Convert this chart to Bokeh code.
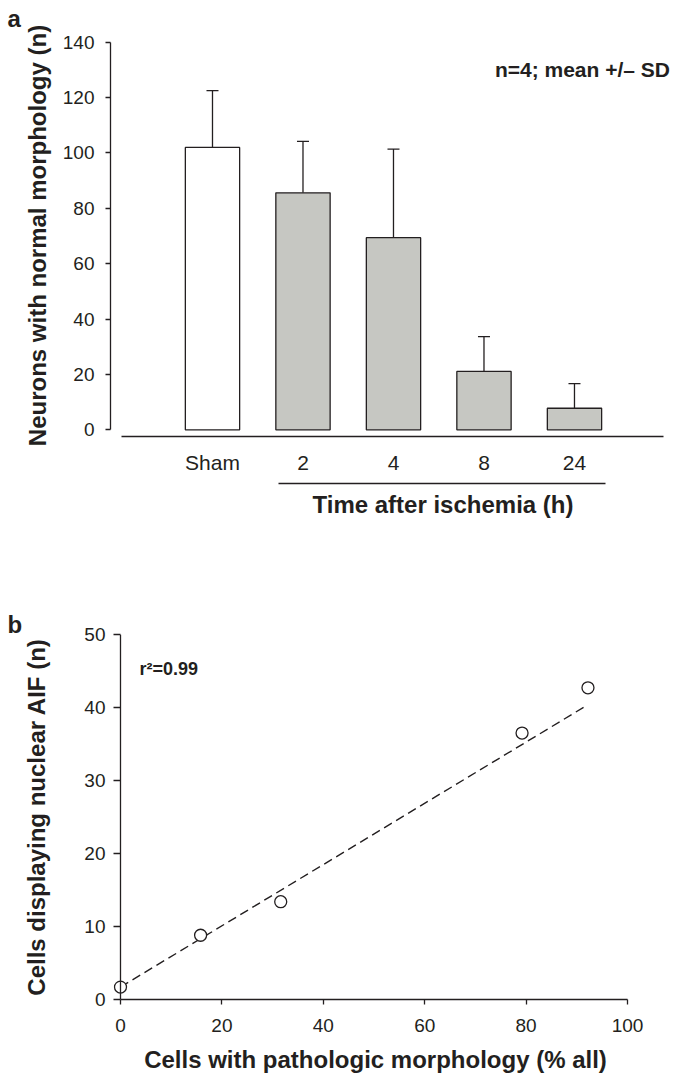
from bokeh.plotting import figure
from bokeh.models import (ColumnDataSource, FixedTicker, LinearAxis, Range1d,
                          Whisker, TeeHead, Label, Title, Span)
from bokeh.embed import file_html
from bokeh.resources import INLINE

# ---------------- data: panel a ----------------
groups = ["Sham", "2", "4", "8", "24"]
neuron_mean = [102.0, 85.6, 69.4, 21.1, 7.8]
neuron_sd = [20.5, 18.6, 32.0, 12.6, 8.9]
a_yticks = [0, 20, 40, 60, 80, 100, 120, 140]

# ---------------- data: panel b ----------------
pathologic_pct = [0.0, 15.8, 31.6, 79.2, 92.2]
nuclear_aif = [1.7, 8.8, 13.4, 36.5, 42.7]
fit_x = [0.0, 92.0]
fit_y = [1.7, 40.3]
b_xticks = [0, 20, 40, 60, 80, 100]
b_yticks = [0, 10, 20, 30, 40, 50]

FONT = "Liberation Sans"
INK = "#231f20"
GRAY = "#c6c7c2"


def style_axis(ax, tick_size, label_size=None):
    ax.axis_line_color = INK
    ax.axis_line_width = 1.3
    ax.major_tick_line_color = INK
    ax.major_tick_line_width = 1.3
    ax.minor_tick_line_color = None
    ax.major_label_text_font = FONT
    ax.major_label_text_font_size = tick_size
    ax.major_label_text_color = INK
    if label_size:
        ax.axis_label_text_font = FONT
        ax.axis_label_text_font_style = "bold"
        ax.axis_label_text_font_size = label_size
        ax.axis_label_text_color = INK


def bare(p):
    p.outline_line_color = None
    p.xgrid.visible = False
    p.ygrid.visible = False
    p.background_fill_color = "white"
    p.border_fill_color = "white"


def bold_title(text, size, align, offset, standoff):
    return Title(text=text, align=align, offset=offset, standoff=standoff,
                 text_font=FONT, text_font_style="bold", text_font_size=size,
                 text_color=INK)


# ================= panel a =================
positions = list(range(1, len(groups) + 1))
fills = ["white"] + [GRAY] * (len(groups) - 1)
src_a = ColumnDataSource(dict(
    x=positions,
    top=neuron_mean,
    upper=[m + s for m, s in zip(neuron_mean, neuron_sd)],
    fill=fills,
))

pa = figure(width=673, height=559,
            x_range=Range1d(-0.127, 6.061), y_range=Range1d(-2.41, 142.8),
            x_axis_location=None, y_axis_location=None,
            min_border_left=110, min_border_right=3,
            min_border_top=33, min_border_bottom=123,
            output_backend="svg", toolbar_location=None)
bare(pa)

ya = LinearAxis(ticker=FixedTicker(ticks=a_yticks), bounds=(0, 140),
                axis_label="Neurons with normal morphology (n)")
style_axis(ya, "19px", "24px")
ya.major_tick_out = 5
ya.major_tick_in = 0
ya.major_label_standoff = 11
ya.axis_label_standoff = 9
pa.add_layout(ya, "left")

xa = LinearAxis(ticker=FixedTicker(ticks=positions), bounds=(0, 5.983),
                major_label_overrides={i: g for i, g in zip(positions, groups)})
style_axis(xa, "21px")
xa.major_tick_out = 0
xa.major_tick_in = 0
xa.major_label_standoff = 14
# thin spacer so the grouping line sits below the tick labels
xa.axis_label = " "
xa.axis_label_text_font_size = "2px"
xa.axis_label_standoff = 2
pa.add_layout(xa, "below")

# grouping line under the ischemia time points
ul = LinearAxis(ticker=FixedTicker(ticks=[]), bounds=(1.733, 5.343))
style_axis(ul, "1px")
ul.major_tick_out = 0
ul.major_tick_in = 0
ul.major_label_standoff = 0
ul.major_tick_line_color = None
ul.major_label_text_color = None
pa.add_layout(ul, "below")

pa.add_layout(bold_title("Time after ischemia (h)", "24px", "left", 202, 10), "below")
pa.add_layout(bold_title("a", "24px", "left", -103, 5), "above")

pa.vbar(x="x", top="top", bottom=0, width=0.6, fill_color="fill",
        line_color=INK, line_width=1.3, source=src_a)
pa.add_layout(Whisker(base="x", upper="upper", lower="top", source=src_a,
                      line_color=INK, line_width=1.3,
                      upper_head=TeeHead(size=12, line_color=INK, line_width=1.3),
                      lower_head=None))

pa.add_layout(Label(x=6.055, y=130.1, text="n=4; mean +/\u2013 SD", text_font=FONT,
                    text_font_style="bold", text_font_size="21px",
                    text_color=INK, text_align="right", text_baseline="alphabetic"))

# ================= panel b =================
pb = figure(width=673, height=518,
            x_range=Range1d(-1.38, 101.97), y_range=Range1d(0, 50),
            x_axis_location=None, y_axis_location=None,
            min_border_left=113, min_border_right=36,
            min_border_top=75, min_border_bottom=78,
            output_backend="svg", toolbar_location=None)
bare(pb)

yb = LinearAxis(ticker=FixedTicker(ticks=b_yticks),
                axis_label="Cells displaying nuclear AIF (n)")
style_axis(yb, "19px", "24px")
yb.axis_line_color = None
yb.major_tick_out = 0
yb.major_tick_in = 7
yb.major_label_standoff = 8
yb.axis_label_standoff = 31
pb.add_layout(yb, "left")
# y axis line at x = 0
pb.add_layout(Span(location=0, dimension="height", line_color=INK, line_width=1.3))

xb = LinearAxis(ticker=FixedTicker(ticks=b_xticks), bounds=(0, 100),
                axis_label="Cells with pathologic morphology (% all)")
style_axis(xb, "19px", "24px")
xb.major_tick_out = 5
xb.major_tick_in = 0
xb.major_label_standoff = 14
xb.axis_label_standoff = 11
pb.add_layout(xb, "below")

pb.add_layout(bold_title("b", "24px", "left", -106, -6), "above")

pb.line(fit_x, fit_y, line_dash="9 5", line_width=1.4, line_color=INK)
pb.scatter(pathologic_pct, nuclear_aif, size=12, marker="circle",
           fill_color="white", line_color=INK, line_width=1.3)

pb.add_layout(Label(x=3.75, y=45.3, text="r\u00b2=0.99", text_font=FONT,
                    text_font_style="bold", text_font_size="18px",
                    text_color=INK, text_baseline="alphabetic"))

open("out.html", "w").write(file_html([pa, pb], INLINE))
